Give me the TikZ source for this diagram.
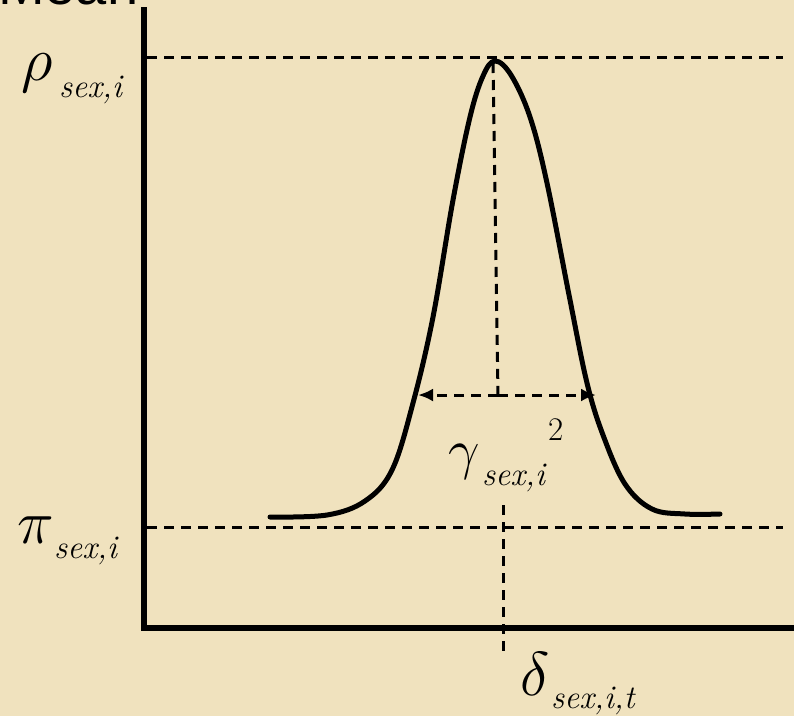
\RequirePackage{fix-cm}
\documentclass[tikz,border=0pt]{standalone}
\usepackage{fontspec}
\newfontfamily\sansfont{Liberation Sans}
\usetikzlibrary{arrows.meta}
\definecolor{parch}{RGB}{240,226,190}
\begin{document}
\begin{tikzpicture}[x=1pt,y=-1pt,
 dash line/.style={line width=3pt, dash pattern=on 10pt off 7pt},
 axis line/.style={line width=5.5pt},
 curve line/.style={line width=5pt, line cap=round, line join=round},
 lbl/.style={inner sep=0pt, anchor=base west},
 big/.style={font=\fontsize{62}{62}\selectfont},
 sub/.style={font=\fontsize{33}{33}\selectfont\itshape},
 tip/.style={-{Latex[length=15pt,width=13pt]}}]
\fill[parch] (0,0) rectangle (794,716);
\useasboundingbox (0,0) rectangle (794,716);
% top text (cut off in the reference)
\node[lbl, font=\sansfont\fontsize{56}{56}\selectfont] (mean) at (-2,4) {Mean};
% axes
\coordinate (ytop) at (144,7);
\coordinate (orig) at (144,628);
\coordinate (xend) at (794,628);
\draw[axis line] (ytop) -- (orig) -- (xend);
% level lines
\coordinate (rhoL) at (147,57);
\coordinate (rhoR) at (783,57);
\coordinate (piL) at (147,527);
\coordinate (piR) at (783,527);
\draw[dash line] (rhoL) -- (rhoR);
\draw[dash line] (piL) -- (piR);
% curve
\draw[curve line] plot[smooth, tension=0.6] coordinates {
 (270,517) (327,515) (365,501) (392,470) (413,403) (433,317) (453,200)
 (470,117) (483,76) (495,61) (511,75) (530,117) (547,183) (570,300)
 (587,383) (603,435) (625,484) (652,509) (685,514) (720,514)};
% peak drop and width arrow
\coordinate (peak) at (493,63);
\coordinate (mid) at (498,395);
\coordinate (arrL) at (418,395);
\coordinate (arrR) at (596,395);
\draw[dash line] (peak) -- (mid);
\draw[dash line, tip] (mid) -- (arrL);
\draw[dash line, tip] (mid) -- (arrR);
% delta drop
\coordinate (dTop) at (503,505);
\coordinate (dBot) at (503,657);
\draw[dash line] (dTop) -- (dBot);
% labels
\node[lbl,big] (rho) at (21,80) {$\rho$};
\node[lbl,sub] (rhos) at (59,97) {sex,i};
\node[lbl,big] (pi) at (17,543) {$\pi$};
\node[lbl,sub] (pis) at (54,558) {sex,i};
\node[lbl,font=\fontsize{56}{56}\selectfont] (gam) at (448,468) {$\gamma$};
\node[lbl,sub] (gams) at (482,485) {sex,i};
\node[lbl,font=\fontsize{33}{33}\selectfont] (two) at (548,440) {2};
\node[lbl,big] (del) at (520,695) {$\delta$};
\node[lbl,sub] (dels) at (551,708) {sex,i,t};
\end{tikzpicture}
\end{document}
